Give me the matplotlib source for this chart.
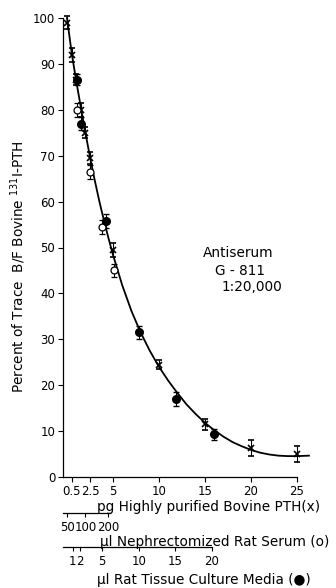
import matplotlib
matplotlib.use("Agg")
import matplotlib.pyplot as plt

# ---- data (x in pg-equivalent units of the main axis) ----
pth_pg = [0, 0.5, 1.0, 1.5, 2.0, 2.5, 5, 10, 15, 20, 25]
pth_y = [99, 92, 86.5, 80, 75, 69.5, 49.5, 24.5, 11.5, 6.3, 5.0]
pth_err = [1.5, 1.5, 1.2, 1.5, 1.2, 1.2, 1.5, 1.0, 1.2, 1.8, 1.8]

serum_x = [1.05, 2.5, 3.8, 5.1]
serum_y = [80, 66.5, 54.5, 45]
serum_err = [1.5, 1.5, 1.5, 1.5]

media_x = [1.05, 1.52, 4.2, 7.8, 11.85, 16.0]
media_y = [86.5, 77, 55.8, 31.5, 17, 9.3]
media_err = [1.2, 1.5, 1.5, 1.5, 1.5, 1.2]

curve_x = [0, 0.5, 1, 1.5, 2, 2.5, 3, 3.5, 4, 4.5, 5, 6, 7, 8, 9, 10,
           11, 12, 13, 14, 15, 16, 17, 18, 19, 20, 21, 22, 23, 24, 25, 26.3]
curve_y = [100, 92.5, 86.3, 80.6, 75, 69.7, 64.8, 60.2, 56, 52.1, 48.4,
           41.8, 36.2, 31.5, 27.5, 24, 21, 18.3, 15.8, 13.7, 11.8, 10.2,
           8.8, 7.6, 6.7, 5.9, 5.3, 4.9, 4.65, 4.55, 4.55, 4.65]

pg_ticks = [0.5, 2.5, 5, 10, 15, 20, 25]
pg_labels = ["0.5", "2.5", "5", "10", "15", "20", "25"]
y_ticks = [0, 10, 20, 30, 40, 50, 60, 70, 80, 90, 100]

serum_tick_pos = [0.0, 2.0, 4.5]
serum_labels = ["50", "100", "200"]
serum_line_end = 4.67

media_ul = [1, 2, 5, 10, 15, 20]
media_tick_pos = [-0.18 + 0.797 * u for u in media_ul]
media_line_end = media_tick_pos[-1]

XMIN, XMAX = -0.435, 28.59
FS = 8.5
FT = 9.8

fig = plt.figure(figsize=(3.36, 5.88), dpi=100)
ax = fig.add_axes([63 / 336, 111 / 588, 267 / 336, 459 / 588])
ax.set_xlim(XMIN, XMAX)
ax.set_ylim(0, 100)
for s in ("top", "right"):
    ax.spines[s].set_visible(False)
ax.spines["bottom"].set_bounds(XMIN, 25)
ax.spines["left"].set_linewidth(0.9)
ax.spines["bottom"].set_linewidth(0.9)

ax.plot(curve_x, curve_y, color="black", lw=1.3, clip_on=False, zorder=2)

ax.errorbar(pth_pg, pth_y, yerr=pth_err, fmt="x", color="black", ms=4.5,
            mew=1.2, elinewidth=0.8, capsize=2, clip_on=False, zorder=3)
ax.errorbar(serum_x, serum_y, yerr=serum_err, fmt="o", color="black",
            mfc="white", ms=5, mew=0.9, elinewidth=0.8, capsize=2,
            clip_on=False, zorder=4)
ax.errorbar(media_x, media_y, yerr=media_err, fmt="o", color="black",
            ms=5.5, elinewidth=0.8, capsize=2, clip_on=False, zorder=4)

ax.set_yticks(y_ticks)
ax.set_xticks(pg_ticks)
ax.set_xticklabels(pg_labels)
ax.tick_params(axis="both", direction="out", length=3.5, width=0.8,
               labelsize=FS, pad=2)

ax.set_ylabel(r"Percent of Trace  B/F Bovine $^{131}$I-PTH", fontsize=FT)
ax.yaxis.set_label_coords(-0.13, 0.4575)

fig.text(203 / 336, 1 - 253 / 588, "Antiserum", fontsize=FT, va="center")
fig.text(215 / 336, 1 - 271 / 588, "G - 811", fontsize=FT, va="center")
fig.text(222 / 336, 1 - 287 / 588, "1:20,000", fontsize=FT, va="center")


def scale_axis(ypix, ticks, labels, end):
    a = fig.add_axes([63 / 336, 1 - ypix / 588, 267 / 336, 0.0001])
    a.set_xlim(XMIN, XMAX)
    a.set_ylim(0, 1)
    for s in ("top", "right", "left"):
        a.spines[s].set_visible(False)
    a.spines["bottom"].set_bounds(XMIN, end)
    a.spines["bottom"].set_linewidth(0.9)
    a.set_yticks([])
    a.set_xticks(ticks)
    a.set_xticklabels(labels)
    a.tick_params(axis="x", direction="out", length=3, width=0.8,
                  labelsize=FS, pad=2.5)
    a.patch.set_visible(False)
    return a


scale_axis(513, serum_tick_pos, serum_labels, serum_line_end)
scale_axis(547, media_tick_pos, [str(u) for u in media_ul], media_line_end)

fig.text(97 / 336, 1 - 507 / 588, "pg Highly purified Bovine PTH(x)",
         fontsize=FT, va="center")
fig.text(100 / 336, 1 - 542 / 588, "\u03bcl Nephrectomized Rat Serum (o)",
         fontsize=FT, va="center")
fig.text(97 / 336, 1 - 580 / 588, "\u03bcl Rat Tissue Culture Media (\u25cf)",
         fontsize=FT, va="center")

fig.savefig("out.png", dpi=100)
